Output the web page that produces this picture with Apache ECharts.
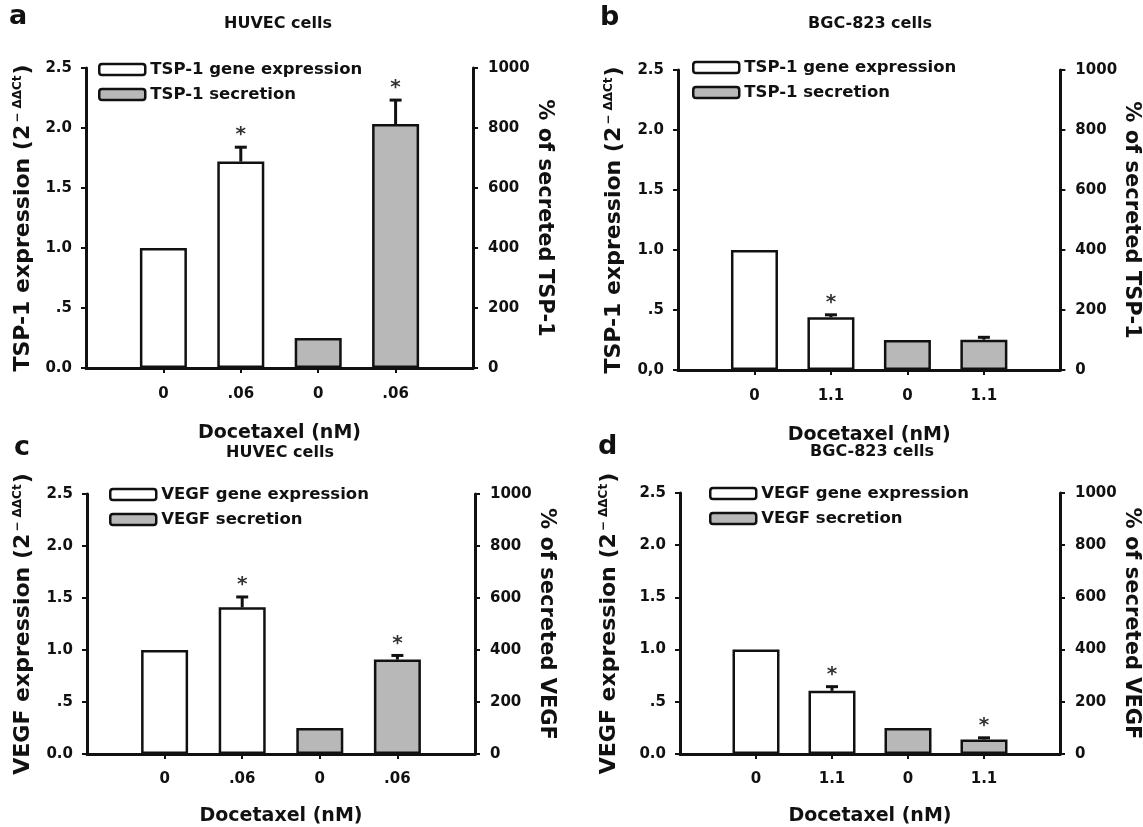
<!DOCTYPE html>
<html>
<head>
<meta charset="utf-8">
<script src="https://cdn.jsdelivr.net/npm/echarts@6/dist/echarts.min.js"></script>
<style>
  html, body { margin: 0; padding: 0; background: #fff; }
  #chart { width: 1143px; height: 827px; }
</style>
</head>
<body>
<div id="chart"></div>
<script>
// Docetaxel effect on TSP-1 / VEGF expression and secretion, 4 panels
const catsHuvec = ['', '0', '.06', '0', '.06', ''];
const catsBgc = ['', '0', '1.1', '0', '1.1', ''];
const leftTicks = ['0.0', '.5', '1.0', '1.5', '2.0', '2.5'];
const leftTicksB = ['0,0', '.5', '1.0', '1.5', '2.0', '2.5'];
const rightTicks = ['0', '200', '400', '600', '800', '1000'];

// gene expression (2^-ddCt) and secretion (%), control then treated
const tspHuvecGene = [1.0, 1.72];
const tspHuvecGeneErr = [0, 0.12];
const tspHuvecSec = [100, 813];
const tspHuvecSecErr = [0, 80];

const tspBgcGene = [1.0, 0.44];
const tspBgcGeneErr = [0, 0.02];
const tspBgcSec = [100, 101];
const tspBgcSecErr = [0, 8];

const vegfHuvecGene = [1.0, 1.41];
const vegfHuvecGeneErr = [0, 0.10];
const vegfHuvecSec = [100, 363];
const vegfHuvecSecErr = [0, 16];

const vegfBgcGene = [1.0, 0.605];
const vegfBgcGeneErr = [0, 0.04];
const vegfBgcSec = [100, 56];
const vegfBgcSecErr = [0, 6];

// significance marks (* vs control)
const starsTspHuvec = { gene: [0, 1], sec: [0, 1] };
const starsTspBgc = { gene: [0, 1], sec: [0, 0] };
const starsVegfHuvec = { gene: [0, 1], sec: [0, 1] };
const starsVegfBgc = { gene: [0, 1], sec: [0, 1] };

const FONT = 'DejaVu Sans';
const INK = '#111';
const GRAY = '#b8b8b8';

const panels = [
  {
    letter: 'a', title: 'HUVEC cells', cats: catsHuvec, ticks: leftTicks,
    gene: tspHuvecGene, geneErr: tspHuvecGeneErr, sec: tspHuvecSec, secErr: tspHuvecSecErr, stars: starsTspHuvec,
    geneName: 'TSP-1 gene expression', secName: 'TSP-1 secretion',
    leftName: 'TSP-1 expression (2', rightName: '% of secreted TSP-1',
    grid: { left: 86, top: 68, width: 387, height: 300 },
    letterPos: [9, 3], titlePos: [278, 16], legendPos: [98, 61],
    gaps: { left: 52, right: 60, x: 56, xLabel: 19 }
  },
  {
    letter: 'b', title: 'BGC-823 cells', cats: catsBgc, ticks: leftTicksB,
    gene: tspBgcGene, geneErr: tspBgcGeneErr, sec: tspBgcSec, secErr: tspBgcSecErr, stars: starsTspBgc,
    geneName: 'TSP-1 gene expression ', secName: 'TSP-1 secretion ',
    leftName: 'TSP-1 expression (2', rightName: '% of secreted TSP-1',
    grid: { left: 678, top: 70, width: 388, height: 300 },
    letterPos: [600, 4], titlePos: [870, 16], legendPos: [692, 59],
    gaps: { left: 53, right: 59, x: 56, xLabel: 19 }
  },
  {
    letter: 'c', title: 'HUVEC cells', cats: catsHuvec, ticks: leftTicks,
    gene: vegfHuvecGene, geneErr: vegfHuvecGeneErr, sec: vegfHuvecSec, secErr: vegfHuvecSecErr, stars: starsVegfHuvec,
    geneName: 'VEGF gene expression', secName: 'VEGF secretion',
    leftName: 'VEGF expression (2', rightName: '% of secreted VEGF',
    grid: { left: 87, top: 494, width: 388, height: 302 },
    letterPos: [14, 434], titlePos: [280, 445], legendPos: [109, 486],
    gaps: { left: 53, right: 60, x: 53, xLabel: 18 }
  },
  {
    letter: 'd', title: 'BGC-823 cells', cats: catsBgc, ticks: leftTicks,
    gene: vegfBgcGene, geneErr: vegfBgcGeneErr, sec: vegfBgcSec, secErr: vegfBgcSecErr, stars: starsVegfBgc,
    geneName: 'VEGF gene expression ', secName: 'VEGF secretion ',
    leftName: 'VEGF expression (2', rightName: '% of secreted VEGF',
    grid: { left: 680, top: 493, width: 386, height: 302 },
    letterPos: [598, 433], titlePos: [872, 444], legendPos: [709, 485],
    gaps: { left: 60, right: 61, x: 53, xLabel: 18 }
  }
];

const boldText = (size) => ({ fontFamily: FONT, fontWeight: 'bold', fontSize: size, color: INK });

// error bar (upper half) + optional asterisk
function renderErr(params, api) {
  const x = api.value(0);
  const mean = api.value(1);
  const upper = api.value(2);
  const star = api.value(3);
  const p0 = api.coord([x, mean]);
  const p1 = api.coord([x, upper]);
  const children = [
    { type: 'line', shape: { x1: p0[0], y1: p0[1], x2: p1[0], y2: p1[1] }, style: { stroke: INK, lineWidth: 3 } },
    { type: 'line', shape: { x1: p1[0] - 6, y1: p1[1], x2: p1[0] + 6, y2: p1[1] }, style: { stroke: INK, lineWidth: 3 } }
  ];
  if (star) {
    children.push({
      type: 'text',
      style: { text: '*', x: p1[0], y: p1[1] - 2, align: 'center', verticalAlign: 'bottom', font: 'bold 20px "DejaVu Sans"', fill: '#333' }
    });
  }
  return { type: 'group', children };
}

const option = {
  backgroundColor: '#fff',
  animation: false,
  title: [],
  legend: [],
  grid: [],
  xAxis: [],
  yAxis: [],
  series: []
};

panels.forEach((p, i) => {
  option.title.push({ text: p.letter, left: p.letterPos[0], top: p.letterPos[1], padding: 0,
    textStyle: boldText(27) });
  option.title.push({ text: p.title, left: p.titlePos[0], top: p.titlePos[1], textAlign: 'center', padding: 0,
    textStyle: boldText(16) });

  option.grid.push(p.grid);

  option.legend.push({
    left: p.legendPos[0], top: p.legendPos[1], orient: 'vertical', padding: 0,
    itemWidth: 46, itemHeight: 11, itemGap: 8, selectedMode: false,
    itemStyle: { borderColor: INK, borderWidth: 2.5 },
    textStyle: boldText(16.5),
    data: [p.geneName, p.secName]
  });

  option.xAxis.push({
    gridIndex: i, type: 'category', data: p.cats, boundaryGap: false,
    axisLine: { lineStyle: { color: INK, width: 3 } },
    axisTick: { interval: (idx) => idx > 0 && idx < 5, length: 5, lineStyle: { color: INK, width: 2 } },
    axisLabel: Object.assign({ interval: 0, margin: p.gaps.xLabel }, boldText(15)),
    name: 'Docetaxel (nM)', nameLocation: 'middle', nameGap: p.gaps.x,
    nameTextStyle: boldText(19)
  });

  option.yAxis.push({
    gridIndex: i, type: 'value', position: 'left', min: 0, max: 2.5, interval: 0.5,
    axisLine: { show: true, lineStyle: { color: INK, width: 3 } },
    axisTick: { show: true, length: 5, lineStyle: { color: INK, width: 2 } },
    splitLine: { show: false },
    axisLabel: Object.assign({ margin: 14, formatter: (v) => p.ticks[Math.round(v / 0.5)] }, boldText(15)),
    name: '{t|' + p.leftName + '}{s|− ΔΔCt}{t|)}', nameLocation: 'middle', nameGap: p.gaps.left, nameRotate: 90,
    nameTextStyle: Object.assign(boldText(22), {
      rich: {
        t: boldText(22),
        s: { fontFamily: FONT, fontSize: 12, color: INK, verticalAlign: 'top', padding: [0, 1, 0, 2] }
      }
    })
  });

  option.yAxis.push({
    gridIndex: i, type: 'value', position: 'right', min: 0, max: 1000, interval: 200,
    axisLine: { show: true, lineStyle: { color: INK, width: 3 } },
    axisTick: { show: true, length: 5, lineStyle: { color: INK, width: 2 } },
    splitLine: { show: false },
    axisLabel: Object.assign({ margin: 15, formatter: (v) => rightTicks[Math.round(v / 200)] }, boldText(15)),
    name: p.rightName, nameLocation: 'middle', nameGap: p.gaps.right, nameRotate: -90,
    nameTextStyle: boldText(21)
  });

  const geneData = [null, p.gene[0], p.gene[1], null, null, null];
  const secData = [null, null, null, p.sec[0], p.sec[1], null];

  option.series.push({
    name: p.geneName, type: 'bar', xAxisIndex: i, yAxisIndex: 2 * i,
    data: geneData, barWidth: 47,
    itemStyle: { color: '#fff', borderColor: INK, borderWidth: 2.5 }
  });
  option.series.push({
    name: p.secName, type: 'bar', xAxisIndex: i, yAxisIndex: 2 * i + 1,
    data: secData, barWidth: 47, barGap: '-100%',
    itemStyle: { color: GRAY, borderColor: INK, borderWidth: 2.5 }
  });

  const geneErrData = [];
  const secErrData = [];
  [0, 1].forEach((k) => {
    if (p.geneErr[k] > 0) geneErrData.push([1 + k, p.gene[k], p.gene[k] + p.geneErr[k], p.stars.gene[k]]);
    if (p.secErr[k] > 0) secErrData.push([3 + k, p.sec[k], p.sec[k] + p.secErr[k], p.stars.sec[k]]);
  });
  option.series.push({
    type: 'custom', xAxisIndex: i, yAxisIndex: 2 * i, data: geneErrData,
    renderItem: renderErr, z: 5, silent: true
  });
  option.series.push({
    type: 'custom', xAxisIndex: i, yAxisIndex: 2 * i + 1, data: secErrData,
    renderItem: renderErr, z: 5, silent: true
  });
});

const chart = echarts.init(document.getElementById('chart'));
chart.setOption(option);
</script>
</body>
</html>
